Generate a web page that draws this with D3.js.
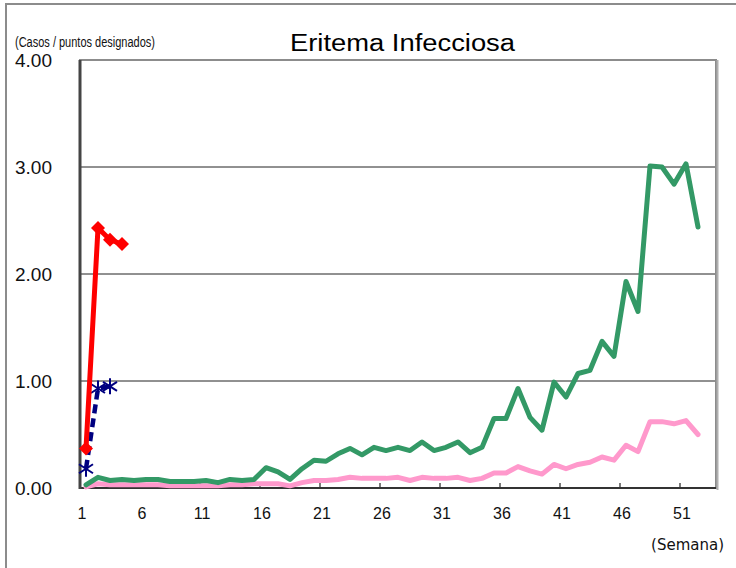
<!DOCTYPE html>
<html>
<head>
<meta charset="utf-8">
<script src="https://cdn.jsdelivr.net/npm/d3@7"></script>
<style>
  body { margin: 0; background: #fff; }
  svg { display: block; }
</style>
</head>
<body>
<div id="chart"></div>
<script>
// weekly data (casos / puntos designados)
var weeks = d3.range(1, 54);
var xTickLabels = ["1", "6", "11", "16", "21", "26", "31", "36", "41", "46", "51"];
var yTicks = [0, 1, 2, 3, 4];

var greenSeries = [0.03, 0.10, 0.07, 0.08, 0.07, 0.08, 0.08, 0.06, 0.06, 0.06,
  0.07, 0.05, 0.08, 0.07, 0.08, 0.19, 0.15, 0.08, 0.18, 0.26,
  0.25, 0.32, 0.37, 0.31, 0.38, 0.35, 0.38, 0.35, 0.43, 0.35,
  0.38, 0.43, 0.33, 0.38, 0.65, 0.65, 0.93, 0.66, 0.54, 0.99,
  0.85, 1.07, 1.10, 1.37, 1.23, 1.93, 1.65, 3.01, 3.00, 2.84,
  3.03, 2.44];
var pinkSeries = [0.01, 0.04, 0.03, 0.03, 0.03, 0.03, 0.03, 0.02, 0.02, 0.02,
  0.02, 0.02, 0.03, 0.03, 0.04, 0.04, 0.04, 0.02, 0.05, 0.07,
  0.07, 0.08, 0.10, 0.09, 0.09, 0.09, 0.10, 0.07, 0.10, 0.09,
  0.09, 0.10, 0.07, 0.09, 0.14, 0.14, 0.20, 0.16, 0.13, 0.22,
  0.18, 0.22, 0.24, 0.29, 0.26, 0.40, 0.34, 0.62, 0.62, 0.60,
  0.63, 0.50];
var redSeries = [0.37, 2.43, 2.32, 2.28];
var blueSeries = [0.18, 0.93, 0.95];

var width = 736, height = 568;
var margin = {top: 60, right: 20, bottom: 80, left: 80};

var svg = d3.select("#chart")
  .append("svg")
    .attr("width", width)
    .attr("height", height);

// outer frame
svg.append("path")
  .attr("d", "M6,575 L6,4 L745,4")
  .attr("fill", "none")
  .attr("stroke", "#8c8c8c")
  .attr("stroke-width", 2);

var x = d3.scaleBand()
  .domain(weeks)
  .range([margin.left, width - margin.right]);

var y = d3.scaleLinear()
  .domain([0, 4])
  .range([height - margin.bottom, margin.top]);

function cx(i) { return x(i + 1) + x.bandwidth() / 2; }

// gridlines
svg.append("g")
  .selectAll("line")
  .data([1, 2, 3])
  .enter()
  .append("line")
    .attr("x1", margin.left)
    .attr("x2", width - margin.right)
    .attr("y1", function(d) { return y(d); })
    .attr("y2", function(d) { return y(d); })
    .attr("stroke", "#222")
    .attr("stroke-width", 1);

// plot frame
svg.append("rect")
  .attr("x", margin.left)
  .attr("y", margin.top)
  .attr("width", width - margin.left - margin.right)
  .attr("height", height - margin.top - margin.bottom)
  .attr("fill", "none")
  .attr("stroke", "#8c8c8c")
  .attr("stroke-width", 2);
svg.append("line")
  .attr("x1", width - margin.right + 1.5).attr("x2", width - margin.right + 1.5)
  .attr("y1", margin.top).attr("y2", height - margin.bottom + 2)
  .attr("stroke", "#b0b0b0").attr("stroke-width", 2);

// x axis: ticks between categories, pointing up
var xTickG = svg.append("g");
xTickG.selectAll("line")
  .data(xTickLabels)
  .enter()
  .append("line")
    .attr("x1", function(d) { return x(+d); })
    .attr("x2", function(d) { return x(+d); })
    .attr("y1", y(0))
    .attr("y2", y(0) - 5)
    .attr("stroke", "#222")
    .attr("stroke-width", 1.2);
xTickG.selectAll("text")
  .data(xTickLabels)
  .enter()
  .append("text")
    .attr("x", function(d) { return x(+d) + 2; })
    .attr("y", 519)
    .attr("text-anchor", "middle")
    .attr("font-family", "Liberation Sans, Arial, sans-serif")
    .attr("font-size", 16)
    .attr("fill", "#111")
    .text(function(d) { return d; });

svg.append("line")
  .attr("x1", margin.left - 1).attr("x2", width - margin.right)
  .attr("y1", y(0)).attr("y2", y(0))
  .attr("stroke", "#333").attr("stroke-width", 2);
svg.append("line")
  .attr("x1", margin.left).attr("x2", margin.left)
  .attr("y1", margin.top).attr("y2", y(0) + 1)
  .attr("stroke", "#444").attr("stroke-width", 3);

// y tick labels
svg.append("g")
  .selectAll("text")
  .data(yTicks)
  .enter()
  .append("text")
    .attr("x", 52)
    .attr("y", function(d) { return y(d) + 7; })
    .attr("text-anchor", "end")
    .attr("font-family", "Liberation Sans, Arial, sans-serif")
    .attr("font-size", 19)
    .attr("fill", "#111")
    .text(function(d) { return d3.format(".2f")(d); });

// titles
svg.append("text")
  .attr("x", 290).attr("y", 51)
  .attr("font-family", "Liberation Sans, Arial, sans-serif")
  .attr("font-size", 23)
  .attr("textLength", 225)
  .attr("lengthAdjust", "spacingAndGlyphs")
  .attr("fill", "#000")
  .text("Eritema Infecciosa");

svg.append("text")
  .attr("x", 15).attr("y", 47)
  .attr("font-family", "Liberation Sans Narrow, Liberation Sans, Arial, sans-serif")
  .attr("font-size", 14)
  .attr("textLength", 140)
  .attr("lengthAdjust", "spacingAndGlyphs")
  .attr("fill", "#111")
  .text("(Casos / puntos designados)");

svg.append("text")
  .attr("x", 724).attr("y", 550)
  .attr("text-anchor", "end")
  .attr("font-family", "DejaVu Sans, sans-serif")
  .attr("font-size", 15)
  .attr("fill", "#111")
  .text("(Semana)");

var line = d3.line()
  .x(function(d, i) { return cx(i); })
  .y(function(d) { return y(d); });

// green and pink lines
svg.append("path")
  .datum(pinkSeries)
  .attr("fill", "none")
  .attr("stroke", "#ff99cc")
  .attr("stroke-width", 5)
  .attr("stroke-linejoin", "round")
  .attr("stroke-linecap", "round")
  .attr("d", line);

svg.append("path")
  .datum(greenSeries)
  .attr("fill", "none")
  .attr("stroke", "#339966")
  .attr("stroke-width", 5)
  .attr("stroke-linejoin", "round")
  .attr("stroke-linecap", "round")
  .attr("d", line);

// blue dashed with asterisks
svg.append("path")
  .datum(blueSeries)
  .attr("fill", "none")
  .attr("stroke", "#000080")
  .attr("stroke-width", 4.5)
  .attr("stroke-dasharray", "9,5")
  .attr("d", line);

svg.append("g")
  .selectAll("path")
  .data(blueSeries)
  .enter()
  .append("path")
    .attr("transform", function(d, i) { return "translate(" + cx(i) + "," + y(d) + ")"; })
    .attr("d", "M0,-8L0,8M-7,-4.5L7,4.5M-7,4.5L7,-4.5")
    .attr("stroke", "#000080")
    .attr("stroke-width", 2)
    .attr("fill", "none");

// red line with diamonds
svg.append("path")
  .datum(redSeries)
  .attr("fill", "none")
  .attr("stroke", "#ff0000")
  .attr("stroke-width", 5)
  .attr("stroke-linejoin", "round")
  .attr("d", line);

svg.append("g")
  .selectAll("path")
  .data(redSeries)
  .enter()
  .append("path")
    .attr("transform", function(d, i) { return "translate(" + cx(i) + "," + y(d) + ")"; })
    .attr("d", "M0,-7L7,0L0,7L-7,0Z")
    .attr("fill", "#ff0000");
</script>
</body>
</html>
